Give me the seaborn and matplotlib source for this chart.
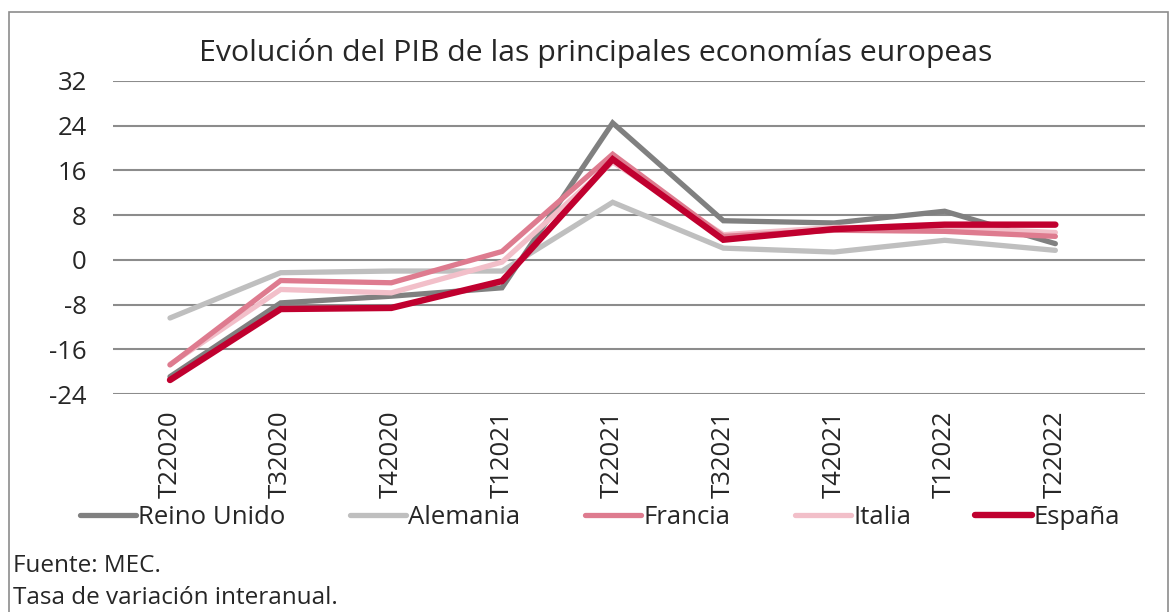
import pandas as pd
import matplotlib.pyplot as plt
import seaborn as sns
from matplotlib.patches import Rectangle

# datos (tasa de variación interanual del PIB, %)
trimestres = ['T22020', 'T32020', 'T42020', 'T12021', 'T22021',
              'T32021', 'T42021', 'T12022', 'T22022']
paises = ['Reino Unido', 'Alemania', 'Francia', 'Italia', 'España']
reino_unido = [-20.9, -7.7, -6.5, -5.0, 24.5, 7.0, 6.6, 8.7, 2.9]
alemania = [-10.4, -2.3, -2.0, -2.0, 10.3, 2.1, 1.4, 3.5, 1.7]
francia = [-18.8, -3.7, -4.1, 1.5, 18.9, 4.2, 5.3, 5.1, 4.2]
italia = [-18.7, -5.3, -5.9, -0.4, 17.5, 4.5, 5.8, 5.8, 4.9]
espana = [-21.5, -8.8, -8.6, -3.8, 18.0, 3.6, 5.5, 6.3, 6.3]
yticks = [-24, -16, -8, 0, 8, 16, 24, 32]

colores = {'Reino Unido': '#808080', 'Alemania': '#BFBFBF', 'Francia': '#DE7B8F',
           'Italia': '#F2BFC9', 'España': '#C0002F'}
grosores = {'Reino Unido': 3.8, 'Alemania': 3.8, 'Francia': 3.8, 'Italia': 3.8,
            'España': 4.6}
# orden de dibujo (Italia queda por debajo de Francia)
orden = ['Reino Unido', 'Alemania', 'Italia', 'Francia', 'España']

series = [reino_unido, alemania, francia, italia, espana]
df = pd.DataFrame({
    'pais': [p for p, s in zip(paises, series) for _ in s],
    'trimestre': trimestres * len(paises),
    'valor': [v for s in series for v in s],
})
df['x'] = df['trimestre'].map({t: i for i, t in enumerate(trimestres)})

sns.set_style('white')
plt.rcParams['font.family'] = ['Open Sans', 'DejaVu Sans']

W, H = 1171, 612
fig = plt.figure(figsize=(W / 100, H / 100), dpi=100)
ax = fig.add_axes([113 / W, 1 - 394 / H, (1145 - 113) / W, (394 - 81) / H])

for pais in orden:
    sns.lineplot(data=df[df['pais'] == pais], x='x', y='valor', color=colores[pais],
                 linewidth=grosores[pais], ax=ax, label=pais, legend=False,
                 solid_capstyle='round', solid_joinstyle='miter')

ax.set_xlim(-0.515, 8.81)
ax.set_ylim(-24, 32)
ax.set_yticks(yticks)
ax.set_yticklabels([str(v) for v in yticks], fontsize=18.5)
ax.set_xticks(range(len(trimestres)))
ax.set_xticklabels(trimestres, rotation=90, fontsize=18.5)
ax.tick_params(axis='y', length=0, pad=19)
ax.tick_params(axis='x', length=0, pad=12)
ax.set_xlabel('')
ax.set_ylabel('')
ax.grid(axis='y', color='#8C8C8C', linewidth=1.5)
ax.set_axisbelow(True)
for s in ax.spines.values():
    s.set_visible(False)

h, l = ax.get_legend_handles_labels()
hmap = dict(zip(l, h))
leg = fig.legend([hmap[p] for p in paises], paises, loc='center',
                 bbox_to_anchor=(600 / W, 1 - 517 / H),
                 ncol=5, frameon=False, fontsize=18.5, handlelength=2.2,
                 handletextpad=0.08, columnspacing=2.5, borderaxespad=0)

fig.text(596 / W, 1 - 61 / H, 'Evolución del PIB de las principales economías europeas',
         ha='center', va='baseline', fontsize=21.8)
fig.text(13 / W, 1 - 572 / H, 'Fuente: MEC.', ha='left', va='baseline', fontsize=17.5)
fig.text(13 / W, 1 - 604 / H, 'Tasa de variación interanual.', ha='left', va='baseline',
         fontsize=17.5)

fig.patches.append(Rectangle((9 / W, -0.05), (1168 - 9) / W, 1.05 - 12 / H,
                             transform=fig.transFigure, fill=False,
                             edgecolor='#8C8C8C', linewidth=1.2))

fig.savefig('out.png', dpi=100)
